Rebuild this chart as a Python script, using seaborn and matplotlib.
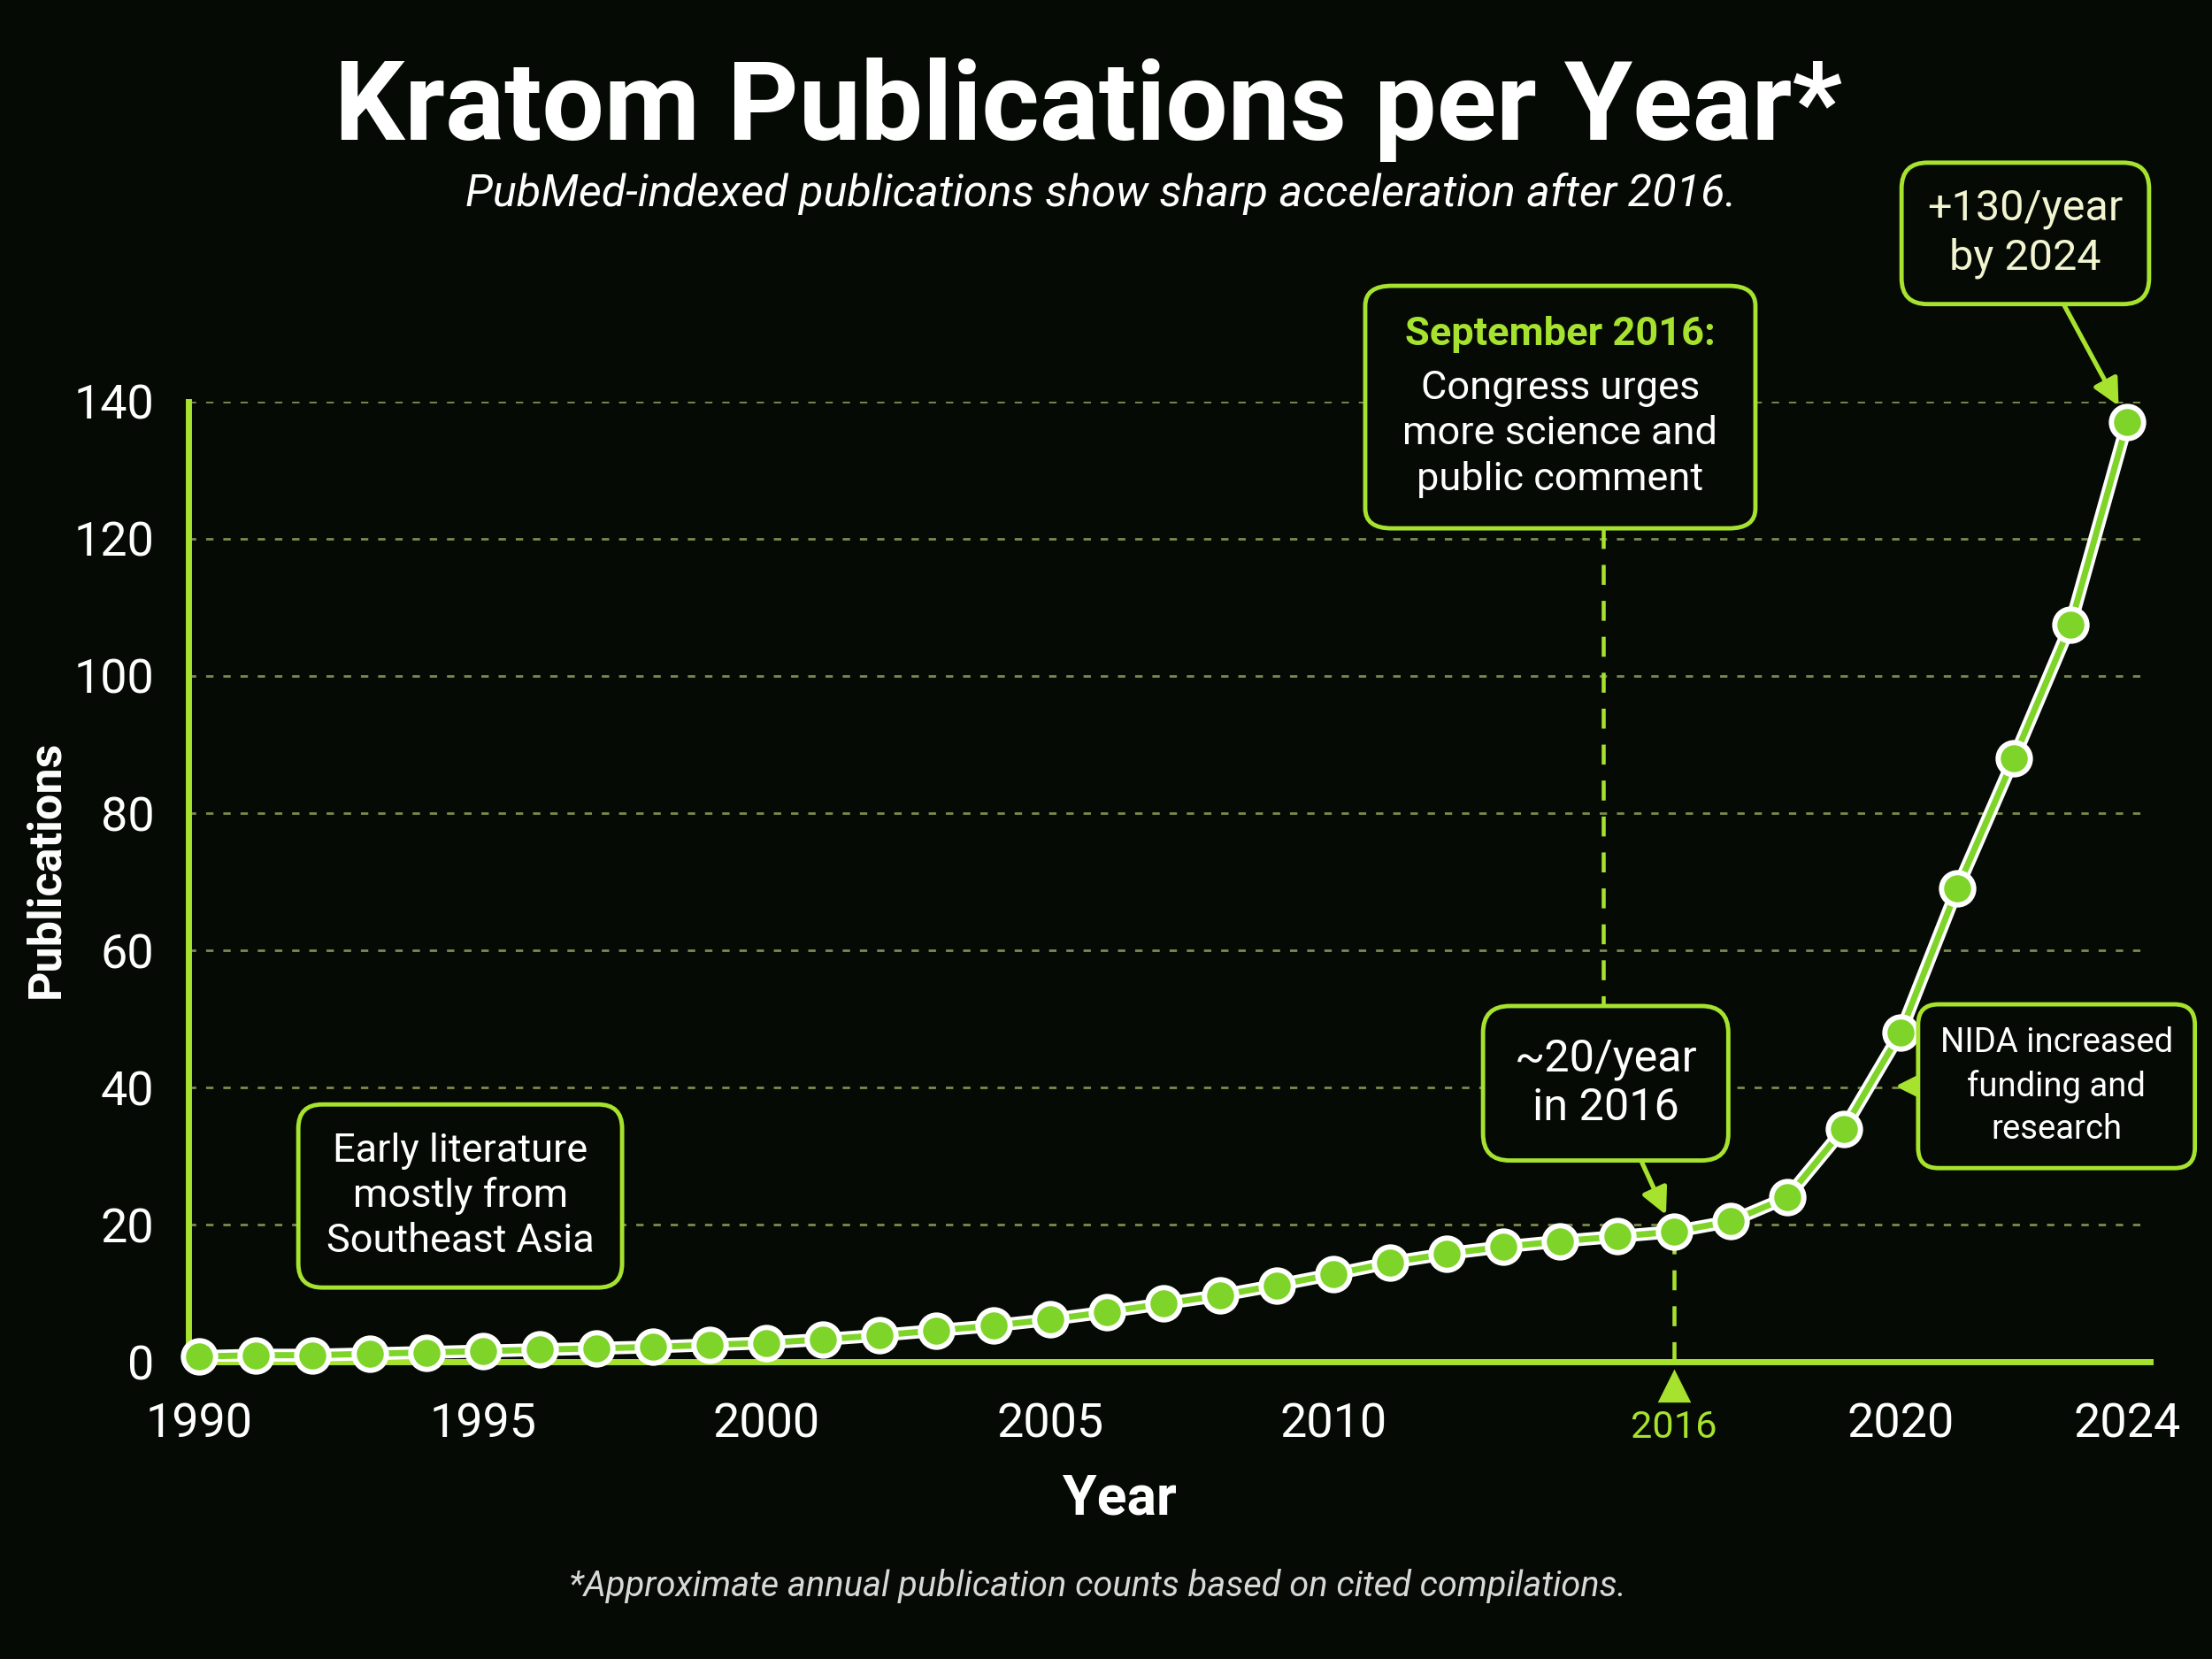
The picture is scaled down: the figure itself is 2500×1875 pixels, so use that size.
import numpy as np
import pandas as pd
import seaborn as sns
import matplotlib.pyplot as plt
from matplotlib import transforms
from matplotlib.patches import FancyBboxPatch
from matplotlib.transforms import Bbox

# approximate annual counts
years = list(range(1990, 2025))
pubs = [0.8, 1.0, 1.0, 1.2, 1.4, 1.6, 1.8, 2.0, 2.2, 2.5,
        2.8, 3.3, 3.9, 4.6, 5.3, 6.2, 7.3, 8.5, 9.7, 11.2,
        12.8, 14.5, 15.8, 16.8, 17.6, 18.3, 19.0, 20.5, 24.0, 34.0,
        48.0, 69.0, 88.0, 107.5, 137.0]
xtick_years = [1990, 1995, 2000, 2005, 2010, 2016, 2020, 2024]
ytick_vals = [0, 20, 40, 60, 80, 100, 120, 140]

df = pd.DataFrame({'Year': years, 'Publications': pubs})

BG = '#050a05'
LIME = '#a6e22e'
GREEN = '#7fd42a'
GRID = '#7d8a4c'

sns.set_theme(style='dark')
plt.rcParams['font.family'] = ['Roboto', 'DejaVu Sans']

fig = plt.figure(figsize=(10, 7.5), dpi=250, facecolor=BG)
ax = fig.add_axes([0.085, 0.179, 0.887, 0.579])
ax.set_facecolor(BG)

for y in ytick_vals[1:]:
    ax.axhline(y, color=GRID, lw=0.8, ls=(0, (3, 4)), zorder=1)

# white halo + green line
sns.lineplot(data=df, x='Year', y='Publications', color='white', lw=4.2, ax=ax, zorder=3)
sns.lineplot(data=df, x='Year', y='Publications', color=GREEN, lw=2.0, ax=ax, zorder=4)
sns.scatterplot(data=df, x='Year', y='Publications', color=GREEN, s=110, edgecolor='white',
                linewidth=1.7, ax=ax, zorder=5, clip_on=False)

ax.set_xlim(1989.8, 2024.4)
ax.set_ylim(0, 140)
ax.set_xticks(xtick_years)
ax.set_yticks(ytick_vals)
ax.set_xticklabels([str(y) for y in xtick_years])
ax.tick_params(axis='both', colors=LIME, labelcolor='white', labelsize=15.5, width=1.2)
ax.tick_params(axis='x', length=8, pad=5)
ax.tick_params(axis='y', length=6, pad=5)
for lab in ax.get_xticklabels():
    if lab.get_text() == '2016':
        lab.set_color(LIME)
        lab.set_fontsize(12.5)
        lab.set_y(-0.008)

for side in ['top', 'right']:
    ax.spines[side].set_visible(False)
for side in ['left', 'bottom']:
    ax.spines[side].set_color(LIME)
    ax.spines[side].set_linewidth(2.0)
ax.grid(False)

ax.set_xlabel('')
ax.set_ylabel('')
fig.text(0.506, 0.096, 'Year', ha='center', va='center', color='white', fontsize=18, fontweight='bold')
fig.text(0.021, 0.476, 'Publications', ha='center', va='center', rotation=90, color='white',
         fontsize=15, fontweight='bold')

# 2016 marker under the axis
trans = transforms.blended_transform_factory(ax.transData, ax.transAxes)
ax.plot([2016], [-0.025], marker='^', color=LIME, ms=9, transform=trans, clip_on=False, zorder=6)
ax.vlines(2016, 0, 19, color=LIME, lw=1.3, ls=(0, (5, 4)), zorder=2)
ax.plot([2014.75, 2014.75], [50.5, 123.6], color=LIME, lw=1.3, ls=(0, (5, 4)), zorder=2)

box = dict(boxstyle='round,pad=0.7,rounding_size=0.6', fc=BG, ec=LIME, lw=1.4)
arrow = dict(arrowstyle='-|>', color=LIME, lw=1.5, mutation_scale=18, shrinkA=0, shrinkB=6)

ax.text(1994.6, 24.2, 'Early literature\nmostly from\nSoutheast Asia', ha='center', va='center',
        color='white', fontsize=13, linespacing=1.25, bbox=box, zorder=7)

ax.annotate('~20/year\nin 2016', xy=(2016, 19), xytext=(2014.8, 40.6), ha='center', va='center',
            color='white', fontsize=14.5, linespacing=1.2, bbox=box, arrowprops=arrow, zorder=7)

ax.annotate('+130/year\nby 2024', xy=(2024, 137), xytext=(2022.2, 164.5), ha='center', va='center',
            color='#f2f5d0', fontsize=14, linespacing=1.25,
            bbox=dict(box, boxstyle='round,pad=0.6,rounding_size=0.6'), arrowprops=arrow,
            annotation_clip=False, zorder=7)

ax.annotate('NIDA increased\nfunding and\nresearch', xy=(2019.8, 40.2), xytext=(2022.75, 40.2),
            ha='center', va='center', color='white', fontsize=11, linespacing=1.4,
            bbox=dict(box, boxstyle='round,pad=0.65,rounding_size=0.6'),
            arrowprops=dict(arrow, shrinkB=2), annotation_clip=False, zorder=7)

# September box: lime heading + white body inside one frame
sx, sy = 2014.0, 152.5
head = ax.text(sx, sy, 'September 2016:', ha='center', va='top', color=LIME, fontsize=13,
               fontweight='bold', zorder=8)
body = ax.annotate('Congress urges\nmore science and\npublic comment', xy=(sx, sy), xytext=(0, -17.5),
                   textcoords='offset points', ha='center', va='top', color='white', fontsize=13,
                   linespacing=1.3, annotation_clip=False, zorder=8)
fig.canvas.draw()
r = fig.canvas.get_renderer()
bb = Bbox.union([head.get_window_extent(r), body.get_window_extent(r)])
bb = bb.transformed(fig.transFigure.inverted())
px, py = 0.017, 0.018
ax.add_patch(FancyBboxPatch((bb.x0 - px, bb.y0 - py), bb.width + 2 * px, bb.height + 2 * py,
                            boxstyle='round,pad=0,rounding_size=0.012', fc=BG, ec=LIME, lw=1.4,
                            transform=fig.transFigure, clip_on=False, zorder=6))

fig.text(0.492, 0.934, 'Kratom Publications per Year*', ha='center', va='center', color='white',
         fontsize=36, fontweight='bold')
fig.text(0.4975, 0.883, 'PubMed-indexed publications show sharp acceleration after 2016.',
         ha='center', va='center', color='white', fontsize=14.5, style='italic')
fig.text(0.496, 0.044, '*Approximate annual publication counts based on cited compilations.',
         ha='center', va='center', color='#d8d8d8', fontsize=11.5, style='italic')

fig.savefig('out.png', dpi=250, facecolor=BG)
